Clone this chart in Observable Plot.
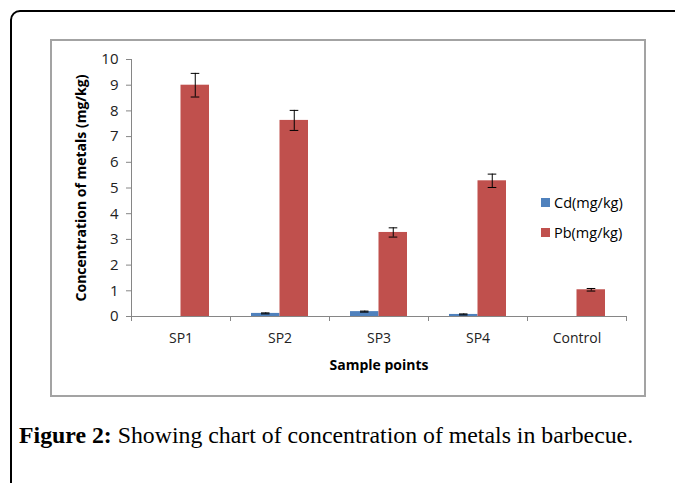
<!DOCTYPE html>
<html>
<head>
<meta charset="utf-8">
<script src="https://cdn.jsdelivr.net/npm/d3@7"></script>
<script src="https://cdn.jsdelivr.net/npm/@observablehq/plot@0.6"></script>
<style>
  html, body { margin: 0; padding: 0; background: #fff; width: 675px; height: 483px; overflow: hidden; position: relative; }
  #outer { position: absolute; left: 10px; top: 10px; width: 720px; height: 540px; border: 2px solid #000; border-radius: 10px; box-sizing: border-box; }
  #box { position: absolute; left: 50px; top: 39px; width: 596px; height: 358px; border: 2px solid #a3a3a3; box-sizing: border-box; }
  #chart { position: absolute; left: 52px; top: 41px; }
  #legend { position: absolute; left: 541px; top: 187px; font-family: "Open Sans", sans-serif; font-size: 14.5px; color: #000; }
  #legend .item { display: flex; align-items: center; height: 30px; }
  #legend .sw { width: 9px; height: 9px; margin-right: 4px; }
  #caption { position: absolute; left: 19px; top: 422px; font-family: "Liberation Serif", serif; font-size: 23.8px; color: #000; white-space: nowrap; }
  #caption b { font-weight: bold; }
  #chart svg g[aria-label="y-axis label"] text,
  #chart svg g[aria-label="x-axis label"] text { font-weight: bold; font-size: 14px; }
  #chart svg g[aria-label="y-axis tick label"] text { font-size: 15px; fill: #222; }
  #chart svg g[aria-label="x-axis tick label"] text { font-size: 14px; fill: #222; }
</style>
</head>
<body>
<div id="outer"></div>
<div id="box"></div>
<div id="chart"></div>
<div id="legend"></div>
<div id="caption"><b>Figure 2:</b> Showing chart of concentration of metals in barbecue.</div>
<script>
const categories = ["SP1", "SP2", "SP3", "SP4", "Control"];
const series = ["Cd(mg/kg)", "Pb(mg/kg)"];
const seriesColors = ["#4F81BD", "#C0504D"];
const cdValues = [0, 0.12, 0.19, 0.08, 0];
const cdErrors = [0, 0.02, 0.02, 0.02, 0];
const pbValues = [9.0, 7.63, 3.27, 5.28, 1.04];
const pbErrors = [0.46, 0.39, 0.18, 0.26, 0.05];
const yTicks = [0, 1, 2, 3, 4, 5, 6, 7, 8, 9, 10];
const xTitle = "Sample points";
const yTitle = "Concentration of metals (mg/kg)";

const cd = categories.map((c, i) => ({category: c, value: cdValues[i], err: cdErrors[i]}));
const pb = categories.map((c, i) => ({category: c, value: pbValues[i], err: pbErrors[i]}));
const cdErr = cd.filter(d => d.value > 0 && d.err > 0);
const pbErr = pb.filter(d => d.value > 0 && d.err > 0);

const axisColor = "#868686";

const plot = Plot.plot({
  width: 592,
  height: 340,
  marginLeft: 79,
  marginRight: 18,
  marginTop: 18,
  marginBottom: 65,
  style: {fontFamily: "'Open Sans', sans-serif", background: "transparent", color: "#000"},
  x: {domain: categories, padding: 0, label: null},
  y: {domain: [0, 10], label: null},
  marks: [
    Plot.barY(cd, {x: "category", y: "value", fill: seriesColors[0], insetLeft: 21, insetRight: 49.5}),
    Plot.barY(pb, {x: "category", y: "value", fill: seriesColors[1], insetLeft: 49.5, insetRight: 21}),
    Plot.ruleX(cdErr, {x: "category", y1: d => d.value - d.err, y2: d => d.value + d.err, dx: -14.25, stroke: "#000", strokeWidth: 1}),
    Plot.tickY(cdErr, {x: "category", y: d => d.value + d.err, insetLeft: 31, insetRight: 59.5, stroke: "#000"}),
    Plot.tickY(cdErr, {x: "category", y: d => d.value - d.err, insetLeft: 31, insetRight: 59.5, stroke: "#000"}),
    Plot.ruleX(pbErr, {x: "category", y1: d => d.value - d.err, y2: d => d.value + d.err, dx: 14.25, stroke: "#000", strokeWidth: 1}),
    Plot.tickY(pbErr, {x: "category", y: d => d.value + d.err, insetLeft: 59.7, insetRight: 30.7, stroke: "#000"}),
    Plot.tickY(pbErr, {x: "category", y: d => d.value - d.err, insetLeft: 59.7, insetRight: 30.7, stroke: "#000"}),
    Plot.ruleY([0], {stroke: axisColor}),
    Plot.ruleX(categories.slice(0, 1), {x: d => d, dx: -49.5, y1: 0, y2: 10, stroke: axisColor}),
    Plot.ruleX(categories, {x: d => d, dx: -49.5, y1: 0, y2: 0, insetBottom: -5, stroke: axisColor}),
    Plot.ruleX(categories.slice(-1), {x: d => d, dx: 49.5, y1: 0, y2: 0, insetBottom: -5, stroke: axisColor}),
    Plot.axisY({ticks: yTicks, tickSize: 5, tickPadding: 8, stroke: axisColor, fontSize: 15, color: "#000",
      label: yTitle, labelAnchor: "center", labelOffset: 55, labelArrow: "none"}),
    Plot.axisX({tickSize: 0, tickPadding: 17, fontSize: 14, label: xTitle, labelAnchor: "center", labelOffset: 53, labelArrow: "none"})
  ]
});
document.getElementById("chart").appendChild(plot);

const legend = document.getElementById("legend");
series.forEach((s, i) => {
  const item = document.createElement("div");
  item.className = "item";
  const sw = document.createElement("span");
  sw.className = "sw";
  sw.style.background = seriesColors[i];
  const t = document.createElement("span");
  t.textContent = s;
  item.appendChild(sw);
  item.appendChild(t);
  legend.appendChild(item);
});
</script>
</body>
</html>
